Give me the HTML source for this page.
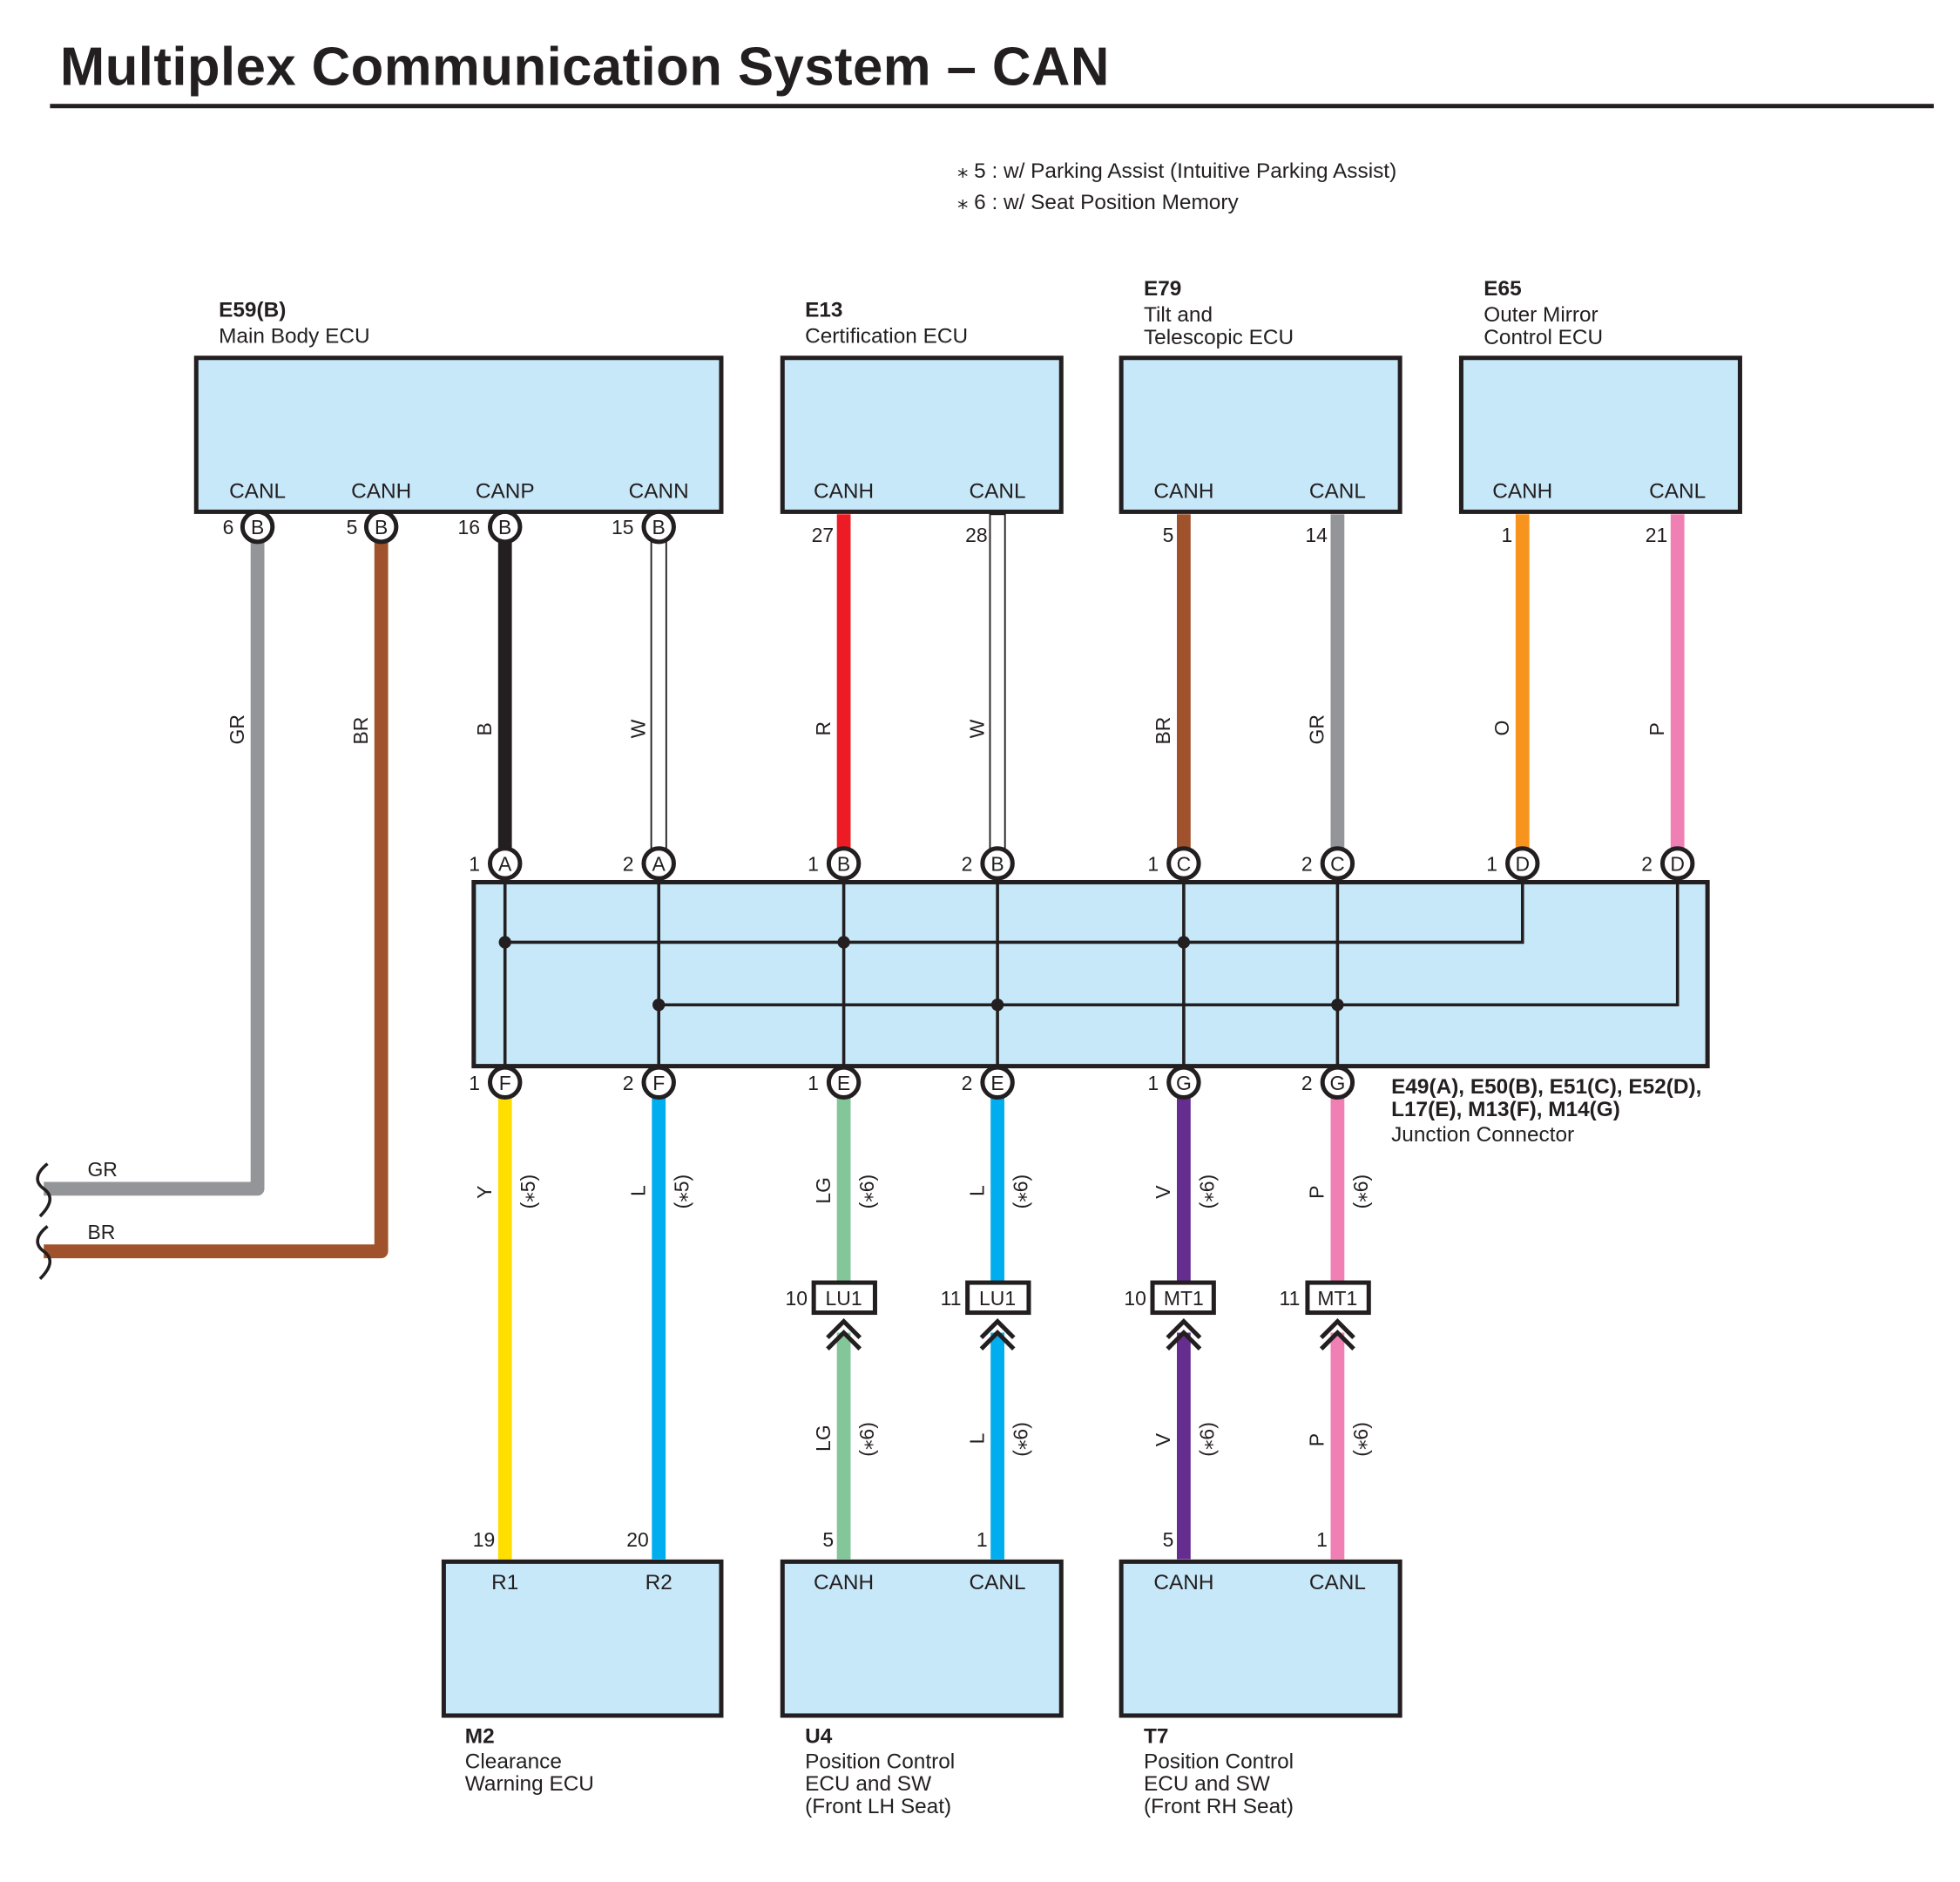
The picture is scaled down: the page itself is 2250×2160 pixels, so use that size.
<!DOCTYPE html>
<html><head><meta charset="utf-8"><style>html,body{margin:0;padding:0;background:#fff}svg{display:block}text{font-family:"Liberation Sans",Arial,sans-serif;fill:#231f20}</style></head><body>
<svg width="2250" height="2160" viewBox="0 0 1568 1504" preserveAspectRatio="none" xmlns="http://www.w3.org/2000/svg">
<text x="48" y="68" font-size="43" font-weight="bold" style="letter-spacing:0.3px">Multiplex Communication System – CAN</text>
<rect x="40" y="83" width="1507" height="3.5" fill="#231f20"/>
<text x="766" y="142" font-size="17">⁎ 5 : w/ Parking Assist (Intuitive Parking Assist)</text>
<text x="766" y="167" font-size="17">⁎ 6 : w/ Seat Position Memory</text>
<g font-size="17">
<text x="175" y="253" font-weight="bold">E59(B)</text><text x="175" y="274">Main Body ECU</text>
<text x="644" y="253" font-weight="bold">E13</text><text x="644" y="274">Certification ECU</text>
<text x="915" y="236" font-weight="bold">E79</text><text x="915" y="257">Tilt and</text><text x="915" y="275">Telescopic ECU</text>
<text x="1187" y="236" font-weight="bold">E65</text><text x="1187" y="257">Outer Mirror</text><text x="1187" y="275">Control ECU</text>
</g>
<g fill="#c7e8f9" stroke="#231f20" stroke-width="3.5">
<rect x="157" y="286" width="420" height="123"/><rect x="626" y="286" width="223" height="123"/>
<rect x="897" y="286" width="223" height="123"/><rect x="1169" y="286" width="223" height="123"/>
<rect x="379" y="705" width="987" height="147"/>
<rect x="355" y="1248" width="222" height="123"/><rect x="626" y="1248" width="223" height="123"/><rect x="897" y="1248" width="223" height="123"/>
</g>
<g font-size="17" text-anchor="middle">
<text x="206" y="398">CANL</text><text x="305" y="398">CANH</text><text x="404" y="398">CANP</text><text x="527" y="398">CANN</text>
<text x="675" y="398">CANH</text><text x="798" y="398">CANL</text><text x="947" y="398">CANH</text><text x="1070" y="398">CANL</text>
<text x="1218" y="398">CANH</text><text x="1342" y="398">CANL</text>
<text x="404" y="1270">R1</text><text x="527" y="1270">R2</text><text x="675" y="1270">CANH</text><text x="798" y="1270">CANL</text>
<text x="947" y="1270">CANH</text><text x="1070" y="1270">CANL</text>
</g>
<g fill="none" stroke-width="11">
<path d="M206 433V950H35" stroke="#939598" stroke-linejoin="round"/>
<path d="M305 433V1000H35" stroke="#a0522d" stroke-linejoin="round"/>
<path d="M404 433V678" stroke="#231f20"/>
<path d="M675 411V678" stroke="#ed1c24"/>
<path d="M947 411V678" stroke="#a0522d"/>
<path d="M1070 411V678" stroke="#939598"/>
<path d="M1218 411V678" stroke="#f7941d"/>
<path d="M1342 411V678" stroke="#f080b4"/>
<path d="M404 877V1246" stroke="#ffde00"/>
<path d="M527 877V1246" stroke="#00aeef"/>
<path d="M675 877V1025M675 1065V1246" stroke="#82c69a"/>
<path d="M798 877V1025M798 1065V1246" stroke="#00aeef"/>
<path d="M947 877V1025M947 1065V1246" stroke="#662d91"/>
<path d="M1070 877V1025M1070 1065V1246" stroke="#f080b4"/>
</g>
<g fill="#fff" stroke="#231f20" stroke-width="1.3">
<rect x="521" y="433" width="12" height="245"/><rect x="792" y="411" width="12" height="267"/>
</g>
<g fill="none" stroke="#231f20" stroke-width="2.5">
<path d="M38 930C28 938 28 945 35 950C42 955 42 962 32 972"/>
<path d="M38 980C28 988 28 995 35 1000C42 1005 42 1012 32 1022"/>
</g>
<g font-size="16"><text x="70" y="940">GR</text><text x="70" y="990">BR</text></g>
<g fill="none" stroke="#231f20" stroke-width="2.5">
<path d="M404 705V852M527 705V852M675 705V852M798 705V852M947 705V852M1070 705V852M1218 705V753H404M1342 705V803H527"/>
</g>
<g fill="#231f20"><circle cx="404" cy="753" r="5"/><circle cx="675" cy="753" r="5"/><circle cx="947" cy="753" r="5"/><circle cx="527" cy="803" r="5"/><circle cx="798" cy="803" r="5"/><circle cx="1070" cy="803" r="5"/></g>
<g fill="#fff" stroke="#231f20" stroke-width="3.5">
<circle cx="206" cy="421" r="12"/><circle cx="305" cy="421" r="12"/><circle cx="404" cy="421" r="12"/><circle cx="527" cy="421" r="12"/>
<circle cx="404" cy="690" r="12"/><circle cx="527" cy="690" r="12"/><circle cx="675" cy="690" r="12"/><circle cx="798" cy="690" r="12"/>
<circle cx="947" cy="690" r="12"/><circle cx="1070" cy="690" r="12"/><circle cx="1218" cy="690" r="12"/><circle cx="1342" cy="690" r="12"/>
<circle cx="404" cy="865" r="12"/><circle cx="527" cy="865" r="12"/><circle cx="675" cy="865" r="12"/><circle cx="798" cy="865" r="12"/>
<circle cx="947" cy="865" r="12"/><circle cx="1070" cy="865" r="12"/>
</g>
<g font-size="16" text-anchor="middle">
<text x="206" y="427">B</text><text x="305" y="427">B</text><text x="404" y="427">B</text><text x="527" y="427">B</text>
<text x="404" y="696">A</text><text x="527" y="696">A</text><text x="675" y="696">B</text><text x="798" y="696">B</text>
<text x="947" y="696">C</text><text x="1070" y="696">C</text><text x="1218" y="696">D</text><text x="1342" y="696">D</text>
<text x="404" y="871">F</text><text x="527" y="871">F</text><text x="675" y="871">E</text><text x="798" y="871">E</text>
<text x="947" y="871">G</text><text x="1070" y="871">G</text>
</g>
<g font-size="16" text-anchor="end">
<text x="187" y="427">6</text><text x="286" y="427">5</text><text x="384" y="427">16</text><text x="507" y="427">15</text>
<text x="667" y="433">27</text><text x="790" y="433">28</text><text x="939" y="433">5</text><text x="1062" y="433">14</text><text x="1210" y="433">1</text><text x="1334" y="433">21</text>
<text x="384" y="696">1</text><text x="507" y="696">2</text><text x="655" y="696">1</text><text x="778" y="696">2</text><text x="927" y="696">1</text><text x="1050" y="696">2</text><text x="1198" y="696">1</text><text x="1322" y="696">2</text>
<text x="384" y="871">1</text><text x="507" y="871">2</text><text x="655" y="871">1</text><text x="778" y="871">2</text><text x="927" y="871">1</text><text x="1050" y="871">2</text>
<text x="396" y="1236">19</text><text x="519" y="1236">20</text><text x="667" y="1236">5</text><text x="790" y="1236">1</text><text x="939" y="1236">5</text><text x="1062" y="1236">1</text>
<text x="646" y="1043">10</text><text x="769" y="1043">11</text><text x="917" y="1043">10</text><text x="1040" y="1043">11</text>
</g>
<g fill="#fff" stroke="#231f20" stroke-width="3.5">
<rect x="651" y="1025" width="49" height="24"/><rect x="774" y="1025" width="49" height="24"/><rect x="922" y="1025" width="49" height="24"/><rect x="1046" y="1025" width="49" height="24"/>
</g>
<g font-size="16" text-anchor="middle"><text x="675" y="1043">LU1</text><text x="798" y="1043">LU1</text><text x="947" y="1043">MT1</text><text x="1070" y="1043">MT1</text></g>
<g fill="none" stroke="#231f20" stroke-width="3.5">
<path d="M662 1069L675 1056L688 1069M662 1078L675 1065L688 1078"/>
<path d="M785 1069L798 1056L811 1069M785 1078L798 1065L811 1078"/>
<path d="M934 1069L947 1056L960 1069M934 1078L947 1065L960 1078"/>
<path d="M1057 1069L1070 1056L1083 1069M1057 1078L1070 1065L1083 1078"/>
</g>
<g font-size="16">
<text transform="translate(195,595) rotate(-90)">GR</text><text transform="translate(294,595) rotate(-90)">BR</text>
<text transform="translate(393,588) rotate(-90)">B</text><text transform="translate(516,590) rotate(-90)">W</text>
<text transform="translate(664,588) rotate(-90)">R</text><text transform="translate(787,590) rotate(-90)">W</text>
<text transform="translate(936,595) rotate(-90)">BR</text><text transform="translate(1059,595) rotate(-90)">GR</text>
<text transform="translate(1207,588) rotate(-90)">O</text><text transform="translate(1331,588) rotate(-90)">P</text>
<text transform="translate(393,958) rotate(-90)">Y</text><text transform="translate(516,956) rotate(-90)">L</text>
<text transform="translate(664,962) rotate(-90)">LG</text><text transform="translate(787,956) rotate(-90)">L</text>
<text transform="translate(936,958) rotate(-90)">V</text><text transform="translate(1059,958) rotate(-90)">P</text>
<text transform="translate(664,1160) rotate(-90)">LG</text><text transform="translate(787,1154) rotate(-90)">L</text>
<text transform="translate(936,1156) rotate(-90)">V</text><text transform="translate(1059,1156) rotate(-90)">P</text>
<text transform="translate(428,966) rotate(-90)">(⁎5)</text><text transform="translate(551,966) rotate(-90)">(⁎5)</text>
<text transform="translate(699,966) rotate(-90)">(⁎6)</text><text transform="translate(822,966) rotate(-90)">(⁎6)</text>
<text transform="translate(971,966) rotate(-90)">(⁎6)</text><text transform="translate(1094,966) rotate(-90)">(⁎6)</text>
<text transform="translate(699,1164) rotate(-90)">(⁎6)</text><text transform="translate(822,1164) rotate(-90)">(⁎6)</text>
<text transform="translate(971,1164) rotate(-90)">(⁎6)</text><text transform="translate(1094,1164) rotate(-90)">(⁎6)</text>
</g>
<g font-size="17">
<text x="1113" y="874" font-weight="bold">E49(A), E50(B), E51(C), E52(D),</text>
<text x="1113" y="892" font-weight="bold">L17(E), M13(F), M14(G)</text>
<text x="1113" y="912">Junction Connector</text>
<text x="372" y="1393" font-weight="bold">M2</text><text x="372" y="1413">Clearance</text><text x="372" y="1431">Warning ECU</text>
<text x="644" y="1393" font-weight="bold">U4</text><text x="644" y="1413">Position Control</text><text x="644" y="1431">ECU and SW</text><text x="644" y="1449">(Front LH Seat)</text>
<text x="915" y="1393" font-weight="bold">T7</text><text x="915" y="1413">Position Control</text><text x="915" y="1431">ECU and SW</text><text x="915" y="1449">(Front RH Seat)</text>
</g>
</svg>
</body></html>
